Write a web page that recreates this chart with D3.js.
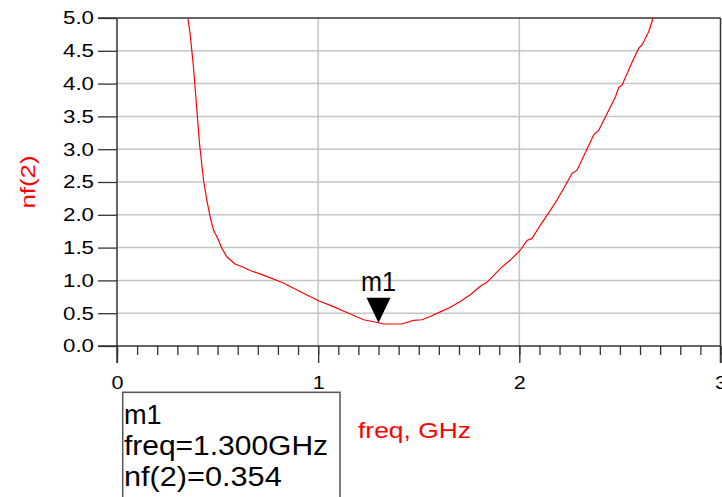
<!DOCTYPE html>
<html>
<head>
<meta charset="utf-8">
<script src="https://cdn.jsdelivr.net/npm/d3@7"></script>
<style>
  html, body { margin: 0; padding: 0; background: #fff; }
  svg { display: block; }
  text { font-family: "Liberation Sans", Arial, sans-serif; }
</style>
</head>
<body>
<svg id="chart" width="722" height="497"></svg>
<script>
// Noise figure nf(2) versus frequency (GHz)
const freq = [0.352, 0.363, 0.380, 0.410, 0.430, 0.446, 0.463, 0.479, 0.504, 0.521,
              0.546, 0.587, 0.628, 0.662, 0.728, 0.827, 0.910, 1.002, 1.076, 1.151,
              1.226, 1.300, 1.325, 1.416, 1.474, 1.516, 1.557, 1.607, 1.657, 1.706,
              1.756, 1.806, 1.839, 1.905, 1.955, 2.005, 2.038, 2.063, 2.104, 2.146,
              2.188, 2.220, 2.262, 2.287, 2.370, 2.395, 2.478, 2.494, 2.511, 2.561,
              2.594, 2.610, 2.643, 2.665];
const nf = [5.00, 4.77, 4.26, 3.09, 2.53, 2.23, 1.97, 1.77, 1.62, 1.49,
            1.36, 1.25, 1.20, 1.15, 1.08, 0.96, 0.83, 0.69, 0.60, 0.50,
            0.40, 0.354, 0.335, 0.335, 0.39, 0.40, 0.45, 0.52, 0.59, 0.68,
            0.78, 0.91, 0.97, 1.18, 1.31, 1.46, 1.61, 1.64, 1.84, 2.03,
            2.23, 2.40, 2.63, 2.68, 3.22, 3.29, 3.80, 3.94, 3.98, 4.33,
            4.54, 4.59, 4.79, 5.00];

const yTicks = [0, 0.5, 1, 1.5, 2, 2.5, 3, 3.5, 4, 4.5, 5];
const xMajor = [0, 1, 2, 3];

// marker m1
const markerName = "m1";
const markerFreq = 1.300;
const markerNf = 0.354;

const svg = d3.select("#chart");
svg.append("rect").attr("width", 722).attr("height", 497).attr("fill", "#fff");

const x = d3.scaleLinear().domain([0, 3]).range([117, 720.5]);
const y = d3.scaleLinear().domain([0, 5]).range([346, 18]);

const axisColor = "#333";
const gridColor = "#c4c4c4";

// horizontal grid lines
svg.append("g").selectAll("line").data(yTicks.filter(d => d > 0 && d < 5)).join("line")
  .attr("x1", x(0)).attr("x2", x(3))
  .attr("y1", d => y(d)).attr("y2", d => y(d))
  .attr("stroke", gridColor).attr("stroke-width", 1.5);

// vertical grid lines
svg.append("g").selectAll("line").data([1, 2]).join("line")
  .attr("x1", d => x(d)).attr("x2", d => x(d))
  .attr("y1", y(5)).attr("y2", y(0))
  .attr("stroke", gridColor).attr("stroke-width", 1.5);

// left axis with outward ticks
const yAxis = d3.axisLeft(y).tickValues(yTicks).tickSize(19).tickPadding(4)
  .tickFormat(d3.format(".1f"));
const gy = svg.append("g").attr("transform", `translate(${x(0)},0)`).call(yAxis);
gy.select(".domain").remove();
gy.selectAll(".tick line").attr("stroke", axisColor).attr("stroke-width", 1.3);
gy.selectAll(".tick text")
  .attr("font-size", 18.6).attr("fill", "#000")
  .attr("textLength", 31).attr("lengthAdjust", "spacingAndGlyphs")
  .attr("font-family", "Liberation Sans, Arial, sans-serif");

// bottom axis: minor ticks every 0.1 GHz, major ticks on integers
const minor = d3.range(0, 31).map(i => i / 10);
const xMinorAxis = d3.axisBottom(x).tickValues(minor).tickSize(9).tickFormat("");
const gxm = svg.append("g").attr("transform", `translate(0,${y(0)})`).call(xMinorAxis);
gxm.select(".domain").remove();
gxm.selectAll(".tick line").attr("stroke", axisColor).attr("stroke-width", 1.3);

const xAxis = d3.axisBottom(x).tickValues(xMajor).tickSize(17).tickPadding(13)
  .tickFormat(d3.format("d"));
const gx = svg.append("g").attr("transform", `translate(0,${y(0)})`).call(xAxis);
gx.select(".domain").remove();
gx.selectAll(".tick line").attr("stroke", axisColor).attr("stroke-width", 1.3);
gx.selectAll(".tick text")
  .attr("font-size", 18.6).attr("fill", "#000")
  .attr("textLength", 12).attr("lengthAdjust", "spacingAndGlyphs")
  .attr("font-family", "Liberation Sans, Arial, sans-serif");

// frame lines
const frame = svg.append("g").attr("stroke", axisColor).attr("stroke-width", 1.5);
frame.append("line").attr("x1", 98).attr("x2", x(3)).attr("y1", y(5)).attr("y2", y(5));
frame.append("line").attr("x1", 98).attr("x2", x(3)).attr("y1", y(0)).attr("y2", y(0));
frame.append("line").attr("x1", x(0)).attr("x2", x(0)).attr("y1", y(5)).attr("y2", y(0) + 17);
frame.append("line").attr("x1", x(3)).attr("x2", x(3)).attr("y1", y(5)).attr("y2", y(0) + 17);

// trace
svg.append("defs").append("clipPath").attr("id", "plotClip")
  .append("rect").attr("x", x(0)).attr("y", y(5)).attr("width", x(3) - x(0)).attr("height", y(0) - y(5));
const line = d3.line().x(d => x(d[0])).y(d => y(d[1]));
svg.append("path")
  .datum(freq.map((f, i) => [f, nf[i]]))
  .attr("clip-path", "url(#plotClip)")
  .attr("d", line)
  .attr("fill", "none").attr("stroke", "#ff0000").attr("stroke-width", 1.2);

// marker triangle and label
const mx = x(markerFreq), my = y(markerNf);
svg.append("path")
  .attr("d", d3.line()([[mx, my], [mx - 12, my - 25], [mx + 12, my - 25]]) + "Z")
  .attr("fill", "#000");
svg.append("text").attr("x", mx).attr("y", my - 32)
  .attr("text-anchor", "middle").attr("font-size", 27)
  .attr("textLength", 35).attr("lengthAdjust", "spacingAndGlyphs")
  .text(markerName);

// axis titles
svg.append("text")
  .attr("transform", `translate(35,${y(2.5)}) rotate(-90)`)
  .attr("text-anchor", "middle").attr("font-size", 21).attr("fill", "#ff0000")
  .attr("textLength", 53).attr("lengthAdjust", "spacingAndGlyphs")
  .text("nf(2)");
svg.append("text").attr("x", 358).attr("y", 437.5)
  .attr("font-size", 22).attr("fill", "#ff0000")
  .attr("textLength", 113).attr("lengthAdjust", "spacingAndGlyphs")
  .text("freq, GHz");

// marker readout box
svg.append("rect").attr("x", 122.7).attr("y", 392.3).attr("width", 217.3).attr("height", 140)
  .attr("fill", "#fff").attr("stroke", "#555").attr("stroke-width", 1.5);
const readout = [
  { t: markerName, w: 37.7 },
  { t: `freq=${markerFreq.toFixed(3)}GHz`, w: 204 },
  { t: `nf(2)=${markerNf.toFixed(3)}`, w: 157.7 }
];
svg.append("g").selectAll("text").data(readout).join("text")
  .attr("x", 124).attr("y", (d, i) => 424.3 + i * 30.6)
  .attr("font-size", 27).attr("fill", "#000")
  .attr("textLength", d => d.w).attr("lengthAdjust", "spacingAndGlyphs")
  .text(d => d.t);
</script>
</body>
</html>
